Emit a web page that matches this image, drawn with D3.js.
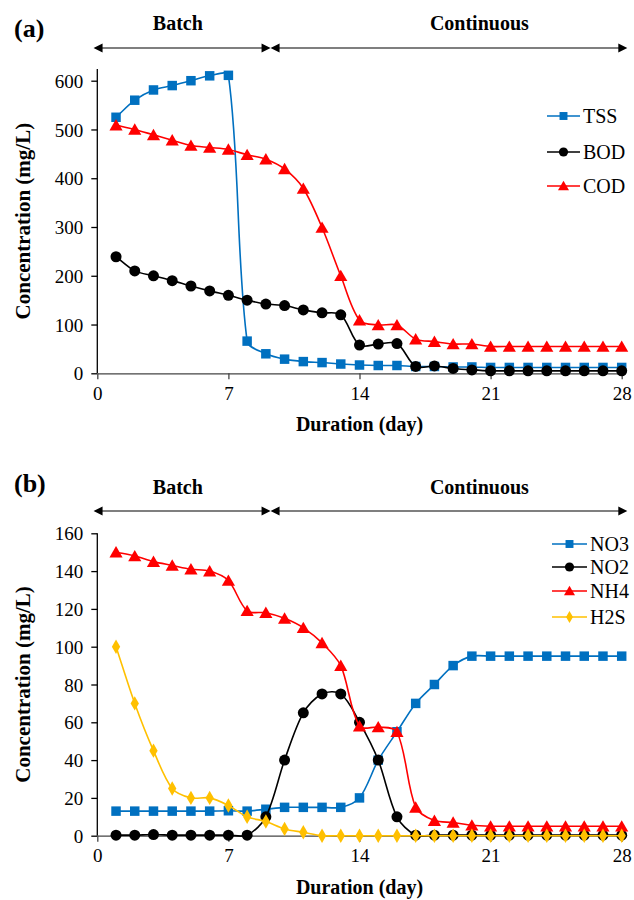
<!DOCTYPE html>
<html><head><meta charset="utf-8">
<script src="https://cdn.jsdelivr.net/npm/d3@7"></script>
<style>body{margin:0;background:#fff}svg{display:block}text{font-family:"Liberation Serif","Times New Roman",serif}</style>
</head><body>
<svg id="c" width="634" height="900" font-family="Liberation Serif"></svg>
<script>
const days = d3.range(1, 29);
const xTicks = [0, 7, 14, 21, 28];
// Panel (a)
const tss = [525,560,581,590,600,610,611,66,40,29,24,22,19,17,16,16,14,14,13,13,12,12,12,12,12,12,12,12];
const bod = [239,210,200,190,179,169,160,150,142,139,130,124,120,58,60,61,14,15,10,7,5,5,5,5,5,5,5,5];
const cod = [509,500,489,478,467,463,459,448,439,419,379,299,200,109,99,99,70,65,60,60,55,55,55,55,55,55,55,55];
const aTicks = [0,100,200,300,400,500,600];
// Panel (b)
const no3 = [13,13,13,13,13,13,13.2,13,14,15,15,15,15,20,40,55,70,80,90,95,95,95,95,95,95,95,95,95];
const no2 = [0.3,0.3,0.6,0.3,0.3,0.3,0.3,0.3,10,40,65,75,75,60,40,10,0.3,0.3,0.3,0.3,0.3,0.3,0.3,0.3,0.3,0.3,0.3,0.3];
const nh4 = [150,148,145,143,141,140,135,119,118,115,110,102,90,58,57.5,55,15,8,7,5.5,5,5,5,5,5,5,5,5];
const h2s = [100,70,45,25,20,20,16,10,7.5,3.6,1.8,0,0,0,0,0,0,0,0,0,0,0,0,0,0,0,0,0];
const bTicks = [0,20,40,60,80,100,120,140,160];
const phases = ["Batch", "Continuous"];
const phaseFrom = [-0.2, 9.25];
const phaseTo = [9.25, 28.3];
const phaseLabelAt = [4.3, 20.4];

const svg = d3.select("#c");
const x = d3.scaleLinear().domain([0, 28]).range([97.3, 621.7]);
const FF = "Liberation Serif";

// spreadsheet-like smoothed line: Bezier arms proportional to each segment's length
function SmoothCurve(context) { this._c = context; }
SmoothCurve.prototype = {
  areaStart() {}, areaEnd() {},
  lineStart() { this._p = []; },
  point(px, py) { this._p.push([+px, +py]); },
  lineEnd() {
    const p = this._p, c = this._c, n = p.length;
    if (!n) return;
    c.moveTo(p[0][0], p[0][1]);
    const tan = i => {
      const a = p[Math.max(0, i - 1)], b = p[Math.min(n - 1, i + 1)];
      const dx = b[0] - a[0], dy = b[1] - a[1], L = Math.hypot(dx, dy) || 1;
      return [dx / L, dy / L];
    };
    for (let i = 0; i < n - 1; i++) {
      const a = p[i], b = p[i + 1];
      const k = 0.3 * Math.hypot(b[0] - a[0], b[1] - a[1]);
      const ta = tan(i), tb = tan(i + 1);
      c.bezierCurveTo(a[0] + ta[0] * k, a[1] + ta[1] * k, b[0] - tb[0] * k, b[1] - tb[1] * k, b[0], b[1]);
    }
  }
};
const smooth = ctx => new SmoothCurve(ctx);

const styles = {
  square: {color:"#0070C0", sym:d3.symbolSquare, size:90},
  circle: {color:"#000000", sym:d3.symbolCircle, size:95},
  triangle: {color:"#FF0000", sym:d3.symbolTriangle, size:75},
  diamond: {color:"#FFC000", sym:d3.symbolDiamond, size:60}
};

function panel(cfg) {
  const g = svg.append("g").attr("font-family", FF);
  const y = d3.scaleLinear().domain([0, cfg.yMaxTick]).range([cfg.y0, cfg.yTop]);
  // header
  g.append("text").attr("x", 14).attr("y", cfg.tagY).attr("font-size", 26).attr("font-weight", "bold").text(cfg.tag);
  phases.forEach((p, i) => {
    g.append("text").attr("x", x(phaseLabelAt[i])).attr("y", cfg.hdrY).attr("text-anchor", "middle")
      .attr("font-size", 20).attr("font-weight", "bold").text(p);
    const x1 = x(phaseFrom[i]), x2 = x(phaseTo[i]), ay = cfg.arrowY;
    g.append("line").attr("x1", x1 + 2).attr("x2", x2 - 2).attr("y1", ay).attr("y2", ay).attr("stroke", "#000").attr("stroke-width", 1.2);
    g.append("path").attr("d", `M${x1},${ay}L${x1+9},${ay-4.5}L${x1+9},${ay+4.5}Z`).attr("fill", "#000");
    g.append("path").attr("d", `M${x2},${ay}L${x2-9},${ay-4.5}L${x2-9},${ay+4.5}Z`).attr("fill", "#000");
  });
  // axes
  const yAx = g.append("g").attr("transform", `translate(${x(0)},0)`)
    .call(d3.axisLeft(y).tickValues(cfg.ticks).tickSize(6).tickSizeOuter(0).tickFormat(d3.format("d")));
  yAx.attr("font-family", FF);
  yAx.select(".domain").attr("d", `M0,${cfg.y0}V${cfg.axisTop}`).attr("stroke", "#000").attr("stroke-width", 1.3);
  yAx.selectAll(".tick line").attr("stroke", "#000").attr("stroke-width", 1.3);
  yAx.selectAll("text").attr("font-size", 19).attr("fill", "#000").attr("x", -14).attr("dy", "0.35em");
  const xAx = g.append("g").attr("transform", `translate(0,${cfg.y0})`)
    .call(d3.axisBottom(x).tickValues(xTicks).tickSize(6).tickSizeOuter(0));
  xAx.attr("font-family", FF);
  xAx.select(".domain").attr("stroke", "#444").attr("stroke-width", 1.3);
  xAx.selectAll(".tick line").attr("stroke", "#444").attr("stroke-width", 1.3);
  xAx.selectAll("text").attr("font-size", 19).attr("fill", "#000").attr("y", 13);
  g.append("text").attr("x", x(14)).attr("y", cfg.y0 + 58).attr("text-anchor", "middle")
    .attr("font-size", 20).attr("font-weight", "bold").text("Duration (day)");
  g.append("text").attr("transform", `translate(30,${(cfg.y0 + cfg.axisTop) / 2}) rotate(-90)`)
    .attr("text-anchor", "middle").attr("font-size", 21).attr("font-weight", "bold").text("Concentration (mg/L)");
  // series
  const line = d3.line().x((d, i) => x(days[i])).y(d => y(d)).curve(smooth);
  cfg.series.forEach(s => {
    const st = styles[s.marker];
    g.append("path").datum(s.values).attr("d", line).attr("fill", "none").attr("stroke", st.color).attr("stroke-width", 1.6);
    g.selectAll(null).data(s.values).enter().append("path")
      .attr("transform", (d, i) => `translate(${x(days[i])},${y(d) + (s.marker === "triangle" ? 1.5 : 0)})`)
      .attr("d", d3.symbol().type(st.sym).size(st.size)).attr("fill", st.color);
  });
  // legend
  cfg.series.forEach((s, i) => {
    const st = styles[s.marker];
    const ly = cfg.legY[i];
    g.append("line").attr("x1", cfg.legX).attr("x2", cfg.legX + cfg.legW).attr("y1", ly).attr("y2", ly).attr("stroke", st.color).attr("stroke-width", 1.6);
    g.append("path").attr("transform", `translate(${cfg.legX + cfg.legW / 2},${ly + (s.marker === "triangle" ? 1 : 0)})`)
      .attr("d", d3.symbol().type(st.sym).size(st.size * 0.7)).attr("fill", st.color);
    g.append("text").attr("x", cfg.legX + cfg.legW + 3).attr("y", ly).attr("dy", "0.35em").attr("font-size", 20).text(s.name);
  });
}

panel({
  tag: "(a)", tagY: 37, hdrY: 30, arrowY: 48, y0: 373.3, yTop: 80.7, yMaxTick: 600, axisTop: 69, ticks: aTicks,
  series: [{name:"TSS", values:tss, marker:"square"}, {name:"BOD", values:bod, marker:"circle"}, {name:"COD", values:cod, marker:"triangle"}],
  legX: 547, legW: 33, legY: [116, 152, 186]
});
panel({
  tag: "(b)", tagY: 492, hdrY: 494, arrowY: 511, y0: 835.7, yTop: 533.3, yMaxTick: 160, axisTop: 533.3, ticks: bTicks,
  series: [{name:"NO3", values:no3, marker:"square"}, {name:"NO2", values:no2, marker:"circle"}, {name:"NH4", values:nh4, marker:"triangle"}, {name:"H2S", values:h2s, marker:"diamond"}],
  legX: 552, legW: 35, legY: [544, 567, 591, 617]
});
</script>
</body></html>
